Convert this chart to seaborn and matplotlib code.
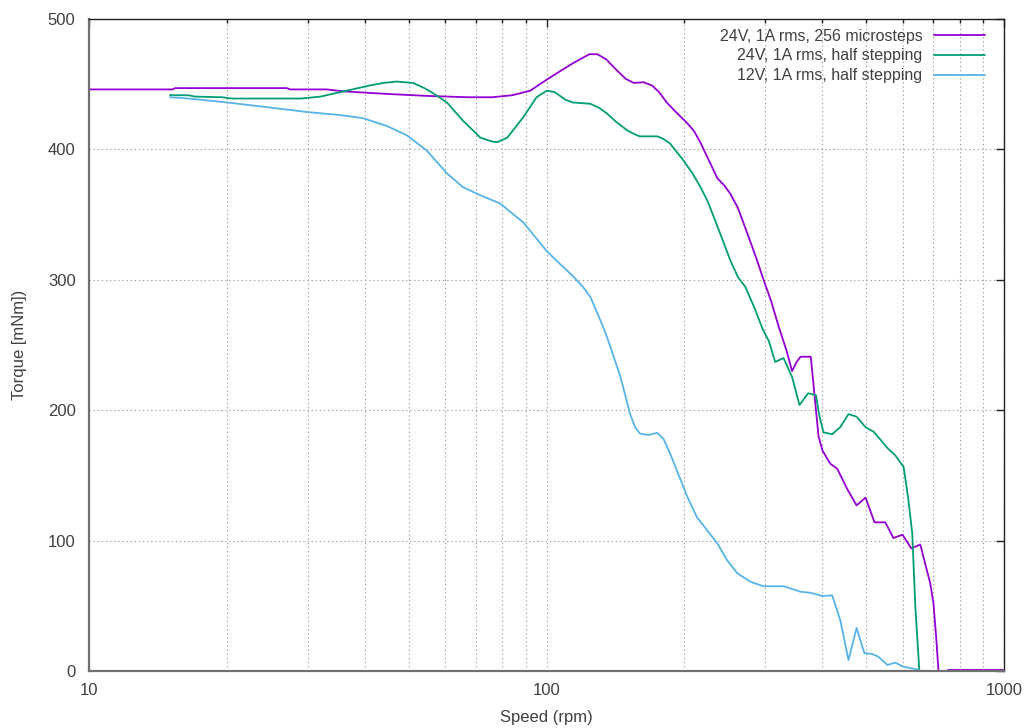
import numpy as np
import pandas as pd
import matplotlib
matplotlib.use("Agg")
import matplotlib.pyplot as plt
import matplotlib.ticker as mticker
import seaborn as sns

# 24V, 1A rms, 256 microsteps (two segments, gap near 730 rpm)
micro_speed = [10, 15.2, 15.4, 27, 27.5, 33, 36, 45, 55, 67, 76, 84, 92, 100, 107, 114, 121,
               124, 129, 135, 142, 149, 155, 163, 170, 176, 183, 190, 203, 210, 217, 226,
               236, 245, 252, 262, 275, 287, 298, 310, 321, 335, 344, 352, 359, 378, 393,
               401, 417, 432, 455, 476, 498, 521, 550, 573, 600, 627, 656, 675, 690, 701,
               711, 719]
micro_torque = [446, 446, 447, 447, 446, 446, 444.5, 442.5, 441, 440, 440, 441.5, 445, 453.5,
                460, 466, 471, 473, 473, 469, 461, 454, 451, 451.5, 449, 444, 436, 430, 420,
                414, 405, 392, 378, 372, 366, 355, 335, 317, 300, 283, 265, 245, 230, 237,
                241, 241, 180, 169, 159, 155, 139, 127, 133, 114, 114, 102, 104.5, 94, 97,
                80, 67, 52, 25, 0]
micro_tail_speed = [755, 1000]
micro_tail_torque = [0.5, 0.5]

# 24V, 1A rms, half stepping
half24_speed = [15, 16.5, 17, 19.5, 20.5, 29, 32, 36.5, 41, 44, 47, 51, 54, 56.5, 60.5, 65.6,
                71.6, 76, 78, 82, 89, 95, 100, 104, 110, 114, 124.5, 130, 135.5, 142, 150,
                157, 160, 174.6, 180, 186, 199, 208, 217, 225, 232, 241, 252, 262, 272, 285,
                296, 306, 316, 329.5, 344, 357, 373, 388, 395, 403, 421, 438.5, 457, 476, 498,
                519, 538, 556, 578, 603, 610, 618, 630, 640, 653]
half24_torque = [441.6, 441.5, 440.5, 440, 439, 439, 440.5, 445, 449, 451, 452, 451, 447, 443,
                 436, 422, 409, 406, 405.6, 409, 425, 440, 445, 444, 438, 436, 435, 432, 427.5,
                 421, 414.6, 411, 410, 410, 408, 404.6, 391.6, 382, 371, 360, 348, 333, 315,
                 302, 294.5, 278, 263, 253, 237, 240, 225.5, 204, 213, 211.5, 195, 183, 181.6,
                 187, 197, 195, 187, 183.4, 177, 171, 165.5, 156.6, 145, 131, 105.6, 49, 0]

# 12V, 1A rms, half stepping
half12_speed = [15, 16.5, 20, 25, 30, 35, 39.6, 44.7, 49.5, 54.7, 60.5, 65.6, 71.6, 79, 88.9,
                100, 107, 114, 120, 124.5, 131, 135.5, 145, 152, 156, 160, 167, 174.5, 180,
                186, 203, 213, 236, 248, 261, 279, 298, 330, 359, 377, 401, 421, 438.5, 457,
                476, 495, 515, 531, 556, 578, 603, 650]
half12_torque = [440, 439, 436, 432, 428.6, 426.5, 424, 418, 410.7, 399, 381.6, 371, 364.8,
                 358.6, 344, 322, 312, 303, 294.5, 287, 269, 256, 225.5, 197.6, 187, 182, 181,
                 182.6, 178, 167, 133.6, 118, 98, 85, 75, 68.4, 65, 65, 60.8, 60, 57.5, 58, 39,
                 8.4, 33, 13.8, 13, 11, 4.6, 6.4, 3.3, 1]

labels = ["24V, 1A rms, 256 microsteps", "24V, 1A rms, half stepping", "12V, 1A rms, half stepping"]
colors = ["#9400D3", "#009E73", "#56B4E9"]

frames = [
    pd.DataFrame({"speed": micro_speed, "torque": micro_torque, "curve": labels[0], "seg": 0}),
    pd.DataFrame({"speed": micro_tail_speed, "torque": micro_tail_torque, "curve": labels[0], "seg": 1}),
    pd.DataFrame({"speed": half24_speed, "torque": half24_torque, "curve": labels[1], "seg": 0}),
    pd.DataFrame({"speed": half12_speed, "torque": half12_torque, "curve": labels[2], "seg": 0}),
]
df = pd.concat(frames, ignore_index=True)

sns.set_style("white")
plt.rcParams["font.family"] = ["Liberation Sans", "DejaVu Sans"]
plt.rcParams["font.size"] = 12
text_col = "#404040"

fig = plt.figure(figsize=(10.27, 7.28), dpi=100)
ax = fig.add_axes([0.0871, 0.0783, 0.8905, 0.8956])

sns.lineplot(data=df, x="speed", y="torque", hue="curve", units="seg", estimator=None,
             palette=dict(zip(labels, colors)), hue_order=labels, sort=False,
             linewidth=1.3, ax=ax)

ax.set_xscale("log")
ax.set_xlim(10, 1000)
ax.set_ylim(0, 500)
ax.set_yticks([0, 100, 200, 300, 400, 500])
ax.xaxis.set_major_locator(mticker.FixedLocator([10, 100, 1000]))
ax.xaxis.set_major_formatter(mticker.FixedFormatter(["10", "100", "1000"]))
ax.xaxis.set_minor_locator(mticker.LogLocator(base=10, subs=np.arange(2, 10)))
ax.xaxis.set_minor_formatter(mticker.NullFormatter())

ax.grid(True, which="both", axis="x", color="#a0a0a0", linestyle=(0, (1.2, 2.5)), linewidth=0.8)
ax.grid(True, which="major", axis="y", color="#a0a0a0", linestyle=(0, (1.2, 2.5)), linewidth=0.8)

ax.tick_params(which="major", direction="in", length=6, width=1, top=True, right=True,
               colors="#202020", labelcolor=text_col, labelsize=12, pad=10)
ax.tick_params(which="minor", direction="in", length=3, width=1, top=True, right=True,
               colors="#202020")
ax.tick_params(axis="x", which="major", pad=9)

for side in ["left", "bottom"]:
    ax.spines[side].set_color("#707070")
    ax.spines[side].set_linewidth(1.6)
for side in ["top", "right"]:
    ax.spines[side].set_color("#202020")
    ax.spines[side].set_linewidth(1.0)

ax.set_xlabel("Speed (rpm)", color=text_col, fontsize=12, labelpad=8)
ax.set_ylabel("Torque [mNm])", color=text_col, fontsize=12, labelpad=15)

leg = ax.legend(loc="upper right", bbox_to_anchor=(0.986, 0.995), frameon=False,
                markerfirst=False, fontsize=11.5, handlelength=3.2, handletextpad=0.7,
                labelspacing=0.3, borderaxespad=0)
for t in leg.get_texts():
    t.set_color(text_col)
    t.set_ha("right")
for line in leg.get_lines():
    line.set_linewidth(1.3)

fig.savefig("out.png", dpi=100)
